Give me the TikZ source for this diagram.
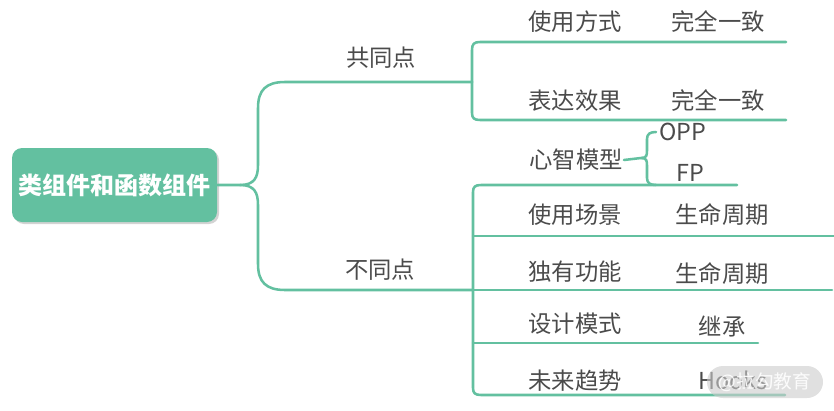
\documentclass[tikz,border=0pt]{standalone}
\usepackage{fontspec}
\newfontfamily\cjk{Noto Sans CJK SC}
\usetikzlibrary{positioning,shadows}
\definecolor{mapgreen}{RGB}{99,192,160}
\definecolor{txtgray}{RGB}{75,75,75}
\tikzset{
  branch/.style={draw=mapgreen, line width=1.9pt, line cap=round, line join=round},
  txt/.style={inner sep=0.75pt, text=txtgray, font=\cjk\fontsize{17.5}{20}\selectfont},
  rootbox/.style={fill=mapgreen, rounded corners=7.5pt, minimum width=153.75pt, minimum height=55.5pt,
    text=white, font=\cjk\bfseries\fontsize{18}{21}\selectfont,
    drop shadow={opacity=0.35, shadow xshift=1.5pt, shadow yshift=-1.5pt}},
  mark box/.style={fill=gray!40, fill opacity=0.6, text opacity=0.9, text=white, rounded corners=12pt,
    minimum width=87pt, minimum height=24pt, font=\cjk\fontsize{14}{16}\selectfont}
}

\begin{document}
\begin{tikzpicture}[x=0.75pt,y=0.75pt,yscale=-1,xscale=1]
\useasboundingbox (0,0) rectangle (834,410);

% Root
\node [rootbox] (root) at (114.5,185) {类组件和函数组件};

% Brace points
\coordinate (rootcusp) at (240,185);
\coordinate (samecusp) at (472,82);
\coordinate (diffcusp) at (473,290);
\coordinate (mindcusp) at (641,158);

%Root brace
\draw [branch] (root.east) -- (rootcusp) .. controls (254,185) and (258,178) .. (258,165) -- (258,108) .. controls (258,90) and (266,82) .. (285,82) -- (samecusp);
\draw [branch] (rootcusp) .. controls (254,185) and (258,192) .. (258,205) -- (258,264) .. controls (258,282) and (266,290) .. (285,290) -- (diffcusp);

%Brace of the common points
\draw [branch] (samecusp) -- (472,50) .. controls (472,44) and (474,42) .. (480,42) -- (786,42);
\draw [branch] (samecusp) -- (472,113) .. controls (472,118) and (474,120) .. (480,120) -- (786,120);

%Brace of the differences
\draw [branch] (diffcusp) -- (473,192) .. controls (473,187) and (475,185) .. (481,185) -- (737,185);
\draw [branch] (diffcusp) -- (473,388) .. controls (473,393) and (475,395) .. (481,395) -- (785,395);
\draw [branch] (473,236) -- (834,236);
\draw [branch] (diffcusp) -- (832,290);
\draw [branch] (473,343) -- (758,343);

% Text Node
\node [txt] (same) at (381,58) {共同点};
\node [txt] (diff) at (380,270) {不同点};
\node [txt] (usage) at (575,22) {使用方式};
\node [txt] (usageval) at (718,22) {完全一致};
\node [txt] (effect) at (575,101) {表达效果};
\node [txt] (effectval) at (718,101) {完全一致};
\node [txt] (mind) at (576,160) {心智模型};
\node [txt] (opp) at (683,132) {OPP};
\node [txt] (fp) at (690,173) {FP};
\node [txt] (scene) at (575,215) {使用场景};
\node [txt] (sceneval) at (722,215) {生命周期};
\node [txt] (feature) at (575,272) {独有功能};
\node [txt] (featureval) at (722,274) {生命周期};
\node [txt] (pattern) at (575,324) {设计模式};
\node [txt] (patternval) at (722,326) {继承};
\node [txt] (trend) at (575,381) {未来趋势};
\node [txt] (trendval) at (733,380) {Hooks};

%Brace of the mental model
\draw [branch] (mind.east) -- (mindcusp) .. controls (647,158) and (647,155) .. (647,150) -- (647,139) .. controls (647,134) and (650,132) .. (656,132);
\draw [branch] (mindcusp) .. controls (647,158) and (647,161) .. (647,166) -- (647,178) .. controls (647,183) and (650,185) .. (656,185);

% Watermark
\node [mark box] (mark) at (765,382) {@拉勾教育};

\end{tikzpicture}
\end{document}
